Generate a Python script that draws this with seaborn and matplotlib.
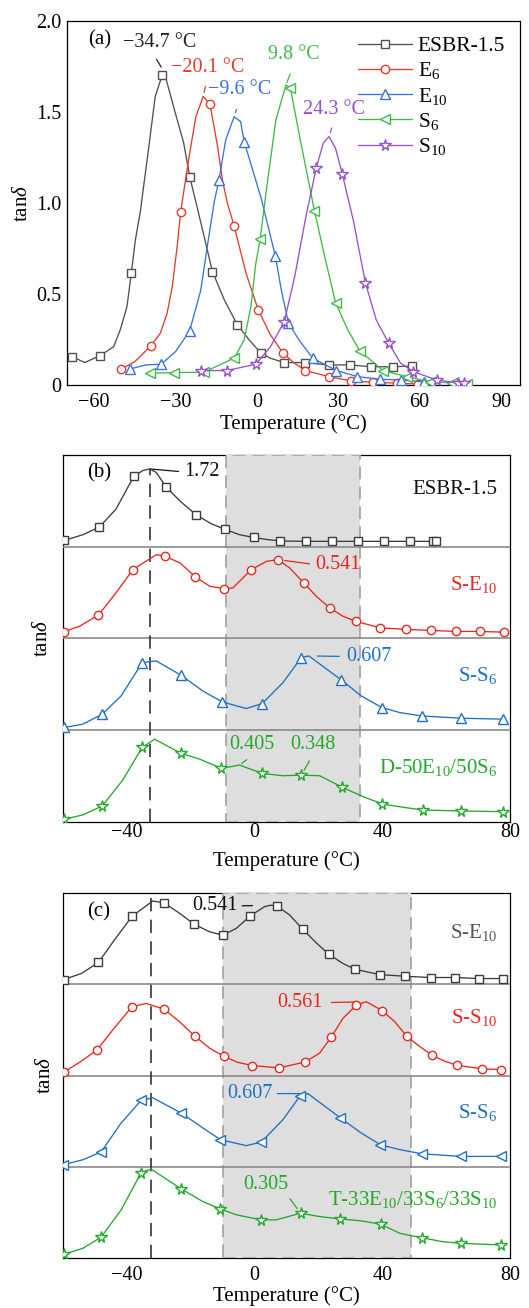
import numpy as np
import pandas as pd
import matplotlib
matplotlib.use("Agg")
import matplotlib.pyplot as plt
import matplotlib.transforms as mtransforms
import seaborn as sns

# ---------------- panel (a): tan delta vs T, five rubbers ----------------
# marker points (T in degC, tan delta)
esbr_T = [-68.0, -57.8, -46.3, -34.9, -24.7, -16.4, -7.2, 1.5, 9.9, 17.8, 26.4, 34.2, 42.2, 50.3, 57.3]
esbr_v = [0.155, 0.161, 0.614, 1.703, 1.141, 0.623, 0.330, 0.174, 0.123, 0.123, 0.110, 0.110, 0.100, 0.100, 0.104]
# extra points read along the curve between markers
esbr_lT = [-63.5, -52.8, -50.4, -47.9, -44.8, -43.0, -40.0, -37.5, -34.2, -30.0, -27.0, -20.0, -12.0, -2.8, 5.0]
esbr_lv = [0.123, 0.210, 0.302, 0.430, 0.797, 0.950, 1.290, 1.584, 1.720, 1.490, 1.330, 0.850, 0.467, 0.247, 0.147]

e6_T = [-50.1, -39.0, -28.1, -17.3, -8.4, 0.5, 9.5, 17.9, 26.5, 34.8, 42.8, 51.5, 59.5]
e6_v = [0.086, 0.216, 0.952, 1.544, 0.874, 0.412, 0.178, 0.079, 0.046, 0.022, 0.015, 0.010, 0.005]
e6_lT = [-45.0, -35.6, -33.1, -31.2, -29.4, -25.0, -22.5, -19.8, -14.5, -12.7, -10.9, -4.0, 5.0, 13.5]
e6_lv = [0.128, 0.284, 0.394, 0.540, 0.760, 1.254, 1.474, 1.585, 1.310, 1.126, 1.000, 0.614, 0.275, 0.123]

e10_T = [-46.7, -35.3, -24.8, -14.0, -4.7, 6.8, 11.6, 20.6, 29.3, 37.0, 45.3, 53.3, 61.7]
e10_v = [0.088, 0.114, 0.297, 1.126, 1.337, 0.709, 0.342, 0.147, 0.079, 0.046, 0.031, 0.027, 0.016]
e10_lT = [-41.0, -30.0, -20.7, -18.3, -15.8, -11.5, -8.4, -6.0, 1.5, 9.0, 15.5]
e10_lv = [0.110, 0.183, 0.520, 0.760, 1.000, 1.346, 1.474, 1.447, 1.030, 0.522, 0.247]

s6_T = [-39.3, -30.6, -19.5, -8.4, 1.2, 12.3, 21.2, 29.0, 37.9, 46.5, 55.2, 63.8, 71.9, 77.4]
s6_v = [0.064, 0.068, 0.070, 0.147, 0.800, 1.634, 0.958, 0.452, 0.188, 0.079, 0.046, 0.018, 0.011, 0.005]
s6_lT = [-4.7, -2.2, -0.4, 3.3, 7.0, 10.7, 16.0, 25.0, 33.6]
s6_lv = [0.247, 0.430, 0.668, 1.050, 1.456, 1.648, 1.346, 0.705, 0.300]

s10_T = [-20.7, -11.1, -0.4, 10.1, 21.9, 31.5, 40.0, 48.6, 57.7, 66.3, 74.3, 76.2]
s10_v = [0.079, 0.079, 0.114, 0.348, 1.194, 1.158, 0.562, 0.229, 0.073, 0.027, 0.011, 0.011]
s10_lT = [5.0, 14.0, 18.0, 24.5, 26.6, 29.0, 35.5, 44.0, 53.0]
s10_lv = [0.210, 0.600, 0.920, 1.330, 1.364, 1.300, 0.907, 0.357, 0.119]

a_xticks = [-60, -30, 0, 30, 60, 90]
a_yticks = [0, 0.5, 1.0, 1.5, 2.0]
a_yticklabels = ["0", "0.5", "1.0", "1.5", "2.0"]

# ---------------- panel (b): stacked curves ----------------
b1_T = [-59.6, -48.6, -37.8, -27.7, -18.3, -9.2, -0.3, 8.1, 16.2, 24.2, 32.4, 40.5, 48.6, 55.9, 56.7]
b1_v = [0.138, 0.434, 1.559, 1.317, 0.706, 0.382, 0.205, 0.126, 0.118, 0.118, 0.118, 0.118, 0.118, 0.118, 0.118]
b1_lT = [-53.8, -43.4, -35.0, -32.9, -30.8, -23.0, -13.6, -4.7, 3.7]
b1_lv = [0.264, 0.832, 1.685, 1.720, 1.644, 0.987, 0.508, 0.264, 0.160]

b2_T = [-59.8, -48.9, -38.1, -28.0, -18.6, -9.6, -1.0, 7.3, 15.4, 23.5, 31.7, 39.2, 47.3, 55.2, 63.0, 70.5, 78.1]
b2_v = [0.046, 0.160, 0.473, 0.564, 0.423, 0.342, 0.473, 0.541, 0.381, 0.210, 0.118, 0.073, 0.062, 0.055, 0.048, 0.048, 0.043]
b2_lT = [-54.8, -43.4, -30.8, -23.3, -14.0, -6.8, 3.7, 11.0, 19.3, 27.7]
b2_lv = [0.084, 0.313, 0.575, 0.518, 0.358, 0.347, 0.529, 0.484, 0.290, 0.152]

b3_T = [-59.6, -47.7, -35.2, -23.0, -10.1, 2.4, 14.6, 27.2, 39.9, 52.4, 64.8, 77.8]
b3_v = [0.022, 0.131, 0.552, 0.449, 0.231, 0.218, 0.593, 0.410, 0.185, 0.116, 0.098, 0.090]
b3_lT = [-53.8, -41.8, -30.8, -16.2, -2.6, 8.9, 17.0, 33.4, 45.5]
b3_lv = [0.049, 0.280, 0.566, 0.320, 0.177, 0.389, 0.607, 0.280, 0.144]

b4_T = [-59.6, -47.7, -35.2, -23.0, -10.4, 2.4, 14.6, 27.5, 40.0, 52.6, 64.8, 77.8]
b4_v = [0.019, 0.114, 0.530, 0.488, 0.381, 0.345, 0.333, 0.246, 0.128, 0.085, 0.078, 0.073]
b4_lT = [-53.8, -41.3, -31.3, -17.2, -4.7, 8.9, 20.4, 34.0, 45.5]
b4_lv = [0.050, 0.298, 0.589, 0.447, 0.405, 0.329, 0.329, 0.180, 0.108]

b_ymax = [2.03, 0.63, 0.75, 0.653]   # tan delta at the top of each strip
b_names = ["ESBR-1.5", "S-E$_{10}$", "S-S$_{6}$", "D-50E$_{10}$/50S$_{6}$"]
b_span = (-9, 33)

# ---------------- panel (c): stacked curves ----------------
c1_T = [-59.8, -48.9, -38.3, -28.4, -19.0, -9.9, -1.3, 7.0, 15.1, 23.3, 31.4, 39.2, 47.0, 55.1, 62.7, 70.3, 77.8]
c1_v = [0.032, 0.149, 0.467, 0.558, 0.412, 0.336, 0.469, 0.536, 0.376, 0.204, 0.103, 0.066, 0.055, 0.046, 0.046, 0.039, 0.039]
c1_lT = [-54.3, -43.9, -31.9, -23.5, -14.1, -5.7, 3.1, 5.0, 11.0, 19.3, 27.7]
c1_lv = [0.073, 0.303, 0.570, 0.486, 0.359, 0.383, 0.531, 0.541, 0.474, 0.284, 0.142]

c2_T = [-59.8, -49.3, -38.4, -28.4, -18.6, -9.6, -0.8, 7.6, 15.9, 24.0, 31.9, 40.0, 47.7, 55.6, 63.5, 71.1, 77.3]
c2_v = [0.025, 0.196, 0.523, 0.505, 0.297, 0.146, 0.076, 0.058, 0.103, 0.292, 0.536, 0.493, 0.297, 0.153, 0.078, 0.051, 0.045]
c2_lT = [-54.3, -44.4, -34.0, -23.5, -14.1, -5.4, 20.4, 27.7, 35.0, 43.9, 51.7, 59.6]
c2_lv = [0.108, 0.347, 0.548, 0.409, 0.208, 0.101, 0.171, 0.435, 0.561, 0.409, 0.221, 0.108]

c3_T = [-60.0, -48.1, -35.5, -23.0, -10.7, 2.1, 14.3, 26.9, 39.4, 52.3, 64.6, 77.3]
c3_v = [0.017, 0.122, 0.551, 0.446, 0.225, 0.205, 0.590, 0.405, 0.183, 0.108, 0.086, 0.086]
c3_lT = [-53.8, -41.8, -31.9, -16.2, -2.6, 8.9, 16.7, 33.4, 45.5]
c3_lv = [0.058, 0.363, 0.572, 0.322, 0.175, 0.391, 0.607, 0.280, 0.142]

c4_T = [-59.8, -48.1, -35.5, -23.0, -10.7, 2.1, 14.4, 26.9, 39.5, 52.3, 64.6, 77.3]
c4_v = [0.025, 0.141, 0.582, 0.471, 0.334, 0.260, 0.305, 0.266, 0.230, 0.138, 0.100, 0.089]
c4_lT = [-53.8, -41.8, -32.4, -16.2, -5.7, 6.8, 20.4, 33.4, 45.5, 59.0]
c4_lv = [0.066, 0.327, 0.605, 0.384, 0.294, 0.260, 0.282, 0.253, 0.168, 0.111]

c_ymax = [0.625, 0.694, 0.757, 0.621]
c_names = ["S-E$_{10}$", "S-S$_{10}$", "S-S$_{6}$", "T-33E$_{10}$/33S$_{6}$/33S$_{10}$"]
c_span = (-10, 49)

bc_xticks = [-40, 0, 40, 80]


def make_curve(mT, mv, lT, lv):
    df = pd.DataFrame({"T": list(mT) + list(lT), "v": list(mv) + list(lv),
                       "mark": [True] * len(mT) + [False] * len(lT)})
    return df.sort_values("T").reset_index(drop=True)


def draw(ax, df, color, marker, ms, label=None, transform=None):
    kw = dict(color=color, marker=marker, markersize=ms, mfc="white", mec=color,
              mew=1.0, lw=0.95, zorder=4,
              markevery=[int(i) for i in np.flatnonzero(df["mark"].values)])
    if transform is not None:
        kw["transform"] = transform
    sns.lineplot(data=df, x="T", y="v", ax=ax, estimator=None, sort=False,
                 label=label, legend=False, **kw)


def peak(df, tmin=-1e9):
    sub = df[df["T"] > tmin]
    i = sub["v"].idxmax()
    return sub.loc[i, "T"], sub.loc[i, "v"]


def value_at(df, t):
    i = (df["T"] - t).abs().idxmin()
    return df.loc[i, "T"], df.loc[i, "v"]


def note(ax, text, xy, dxy, color, coords="data", ha="center", rel=(0.5, 0), sa=2, sb=3):
    ax.annotate(text, xy=xy, xycoords=coords, xytext=dxy, textcoords="offset points",
                ha=ha, va="center", color=color, fontsize=14.5,
                arrowprops=dict(arrowstyle="-", color=color, lw=0.9,
                                shrinkA=sa, shrinkB=sb, relpos=rel))


sns.set_theme(style="white")
plt.rcParams["font.family"] = ["Liberation Serif", "DejaVu Serif"]
plt.rcParams.update({
    "mathtext.fontset": "custom",
    "mathtext.rm": "Liberation Serif",
    "mathtext.it": "Liberation Serif:italic",
    "mathtext.bf": "Liberation Serif:bold",
    "axes.edgecolor": "black",
    "axes.linewidth": 0.9,
    "xtick.direction": "in",
    "ytick.direction": "in",
    "xtick.major.size": 3.5,
    "ytick.major.size": 3.5,
    "xtick.major.width": 0.9,
    "ytick.major.width": 0.9,
    "xtick.color": "black",
    "ytick.color": "black",
    "xtick.labelsize": 14.5,
    "ytick.labelsize": 14.5,
    "axes.labelsize": 15,
    "axes.labelcolor": "black",
    "text.color": "black",
})

fig = plt.figure(figsize=(5.29, 13.08), dpi=100)

# ---------------- (a) ----------------
ax = fig.add_axes([0.1267, 0.7057, 0.8563, 0.2783])
a_series = [
    ("ESBR-1.5", make_curve(esbr_T, esbr_v, esbr_lT, esbr_lv), "#505050", "s", 5.2, "−34.7 °C", "#222222", (-3.2, 20.9), 0.4, 3, 4),
    ("E$_{6}$", make_curve(e6_T, e6_v, e6_lT, e6_lv), "#e33b2e", "o", 6.0, "−20.1 °C", "#e33b2e", (3.2, 21.2), 0.5, 5, 3),
    ("E$_{10}$", make_curve(e10_T, e10_v, e10_lT, e10_lv), "#3a72dc", "^", 6.5, "−9.6 °C", "#3a72dc", (4.1, 19.2), 0.5, 5, 3),
    ("S$_{6}$", make_curve(s6_T, s6_v, s6_lT, s6_lv), "#3dba48", "<", 6.5, "9.8 °C", "#3dba48", (5.8, 21.6), 0.5, 5, 2),
    ("S$_{10}$", make_curve(s10_T, s10_v, s10_lT, s10_lv), "#9650cc", "*", 8.5, "24.3 °C", "#9650cc", (3.7, 19.3), 0.5, 4, 3),
]
for name, df, col, mk, ms, txt, tcol, off, rx, sa, sb in a_series:
    draw(ax, df, col, mk, ms, label=name)
for name, df, col, mk, ms, txt, tcol, off, rx, sa, sb in a_series:
    note(ax, txt, peak(df), off, tcol, rel=(rx, 0), sa=sa, sb=sb)

ax.set_xlim(-70, 97)
ax.set_ylim(0, 2.0)
ax.set_xticks(a_xticks)
ax.set_yticks(a_yticks)
ax.set_yticklabels(a_yticklabels)
ax.tick_params(axis="x", pad=6)
ax.tick_params(axis="y", pad=4)
ax.set_xlabel("Temperature (°C)", labelpad=1)
ax.set_ylabel("tan$\\delta$", labelpad=3)
ax.text(0.046, 0.948, "(a)", transform=ax.transAxes, fontsize=15, va="center")
leg = ax.legend(loc="upper right", bbox_to_anchor=(1.0, 1.0), frameon=False, fontsize=15.5,
                handlelength=2.5, handletextpad=0.25, labelspacing=0.2, borderaxespad=0.3)


# ---------------- (b), (c): stacked strips ----------------
def strip_panel(rect, curves, ymax, names, name_y, span, label, label_y, notes, vline,
                tick_pad, xlabel_pad, ylabel_pad):
    ax = fig.add_axes(rect)
    n = len(curves)
    ax.set_xlim(-60, 80)
    ax.set_ylim(0, n)
    trs = [mtransforms.Affine2D().scale(1, 1.0 / ymax[k]).translate(0, n - 1 - k) + ax.transData
           for k in range(n)]
    ax.axvspan(span[0], span[1], facecolor="#dedede", edgecolor="#a6a6a6",
               linestyle=(0, (7, 4)), linewidth=1.3, zorder=2.6)
    for k in range(1, n):
        ax.axhline(k, color="#8a8a8a", lw=1.2, zorder=3)
    for k, (df, col, mk, ms, ncol) in enumerate(curves):
        draw(ax, df, col, mk, ms, transform=trs[k])
        ax.text(0.971, name_y[k], names[k], transform=ax.transAxes, ha="right", va="center",
                color=ncol, fontsize=15, zorder=5)
    # dashed guide through the low-temperature peak
    k0, top_to_peak = vline
    tpk, vpk = peak(curves[k0][0])
    ymax_frac = (n - 1 - k0 + vpk / ymax[k0]) / n if top_to_peak else 1.0
    ax.axvline(tpk, ymin=0, ymax=ymax_frac, color="#333333", lw=1.2,
               linestyle=(0, (8, 5)), zorder=3.5)
    for k, txt, xy, off, col, ha, rel, sa, sb in notes:
        note(ax, txt, xy, off, col, coords=trs[k], ha=ha, rel=rel, sa=sa, sb=sb)
    ax.set_xticks(bc_xticks)
    ax.set_yticks([])
    ax.tick_params(axis="x", pad=tick_pad)
    ax.set_xlabel("Temperature (°C)", labelpad=xlabel_pad)
    ax.set_ylabel("tan$\\delta$", labelpad=ylabel_pad)
    ax.text(0.054, label_y, label, transform=ax.transAxes, fontsize=15, va="center")
    return ax


b_curves = [
    (make_curve(b1_T, b1_v, b1_lT, b1_lv), "#3c3c3c", "s", 5.2, "#111111"),
    (make_curve(b2_T, b2_v, b2_lT, b2_lv), "#e5281f", "o", 6.0, "#e5281f"),
    (make_curve(b3_T, b3_v, b3_lT, b3_lv), "#1f6fc2", "^", 6.5, "#1f6fc2"),
    (make_curve(b4_T, b4_v, b4_lT, b4_lv), "#22a82b", "*", 8.5, "#22a82b"),
]
b_notes = [
    (0, "1.72", peak(b_curves[0][0]), (25.2, -2.2), "#111111", "left", (0, 0.5), 2, 0),
    (1, "0.541", peak(b_curves[1][0], 0), (27.1, -3.6), "#e5281f", "left", (0, 0.5), 2, 5),
    (2, "0.607", peak(b_curves[2][0], 0), (27.2, -0.4), "#1f6fc2", "left", (0, 0.5), 3, 6),
    (3, "0.405", value_at(b_curves[3][0], -4.7), (9.1, 14.8), "#22a82b", "center", (0.55, 0), 3, 2),
    (3, "0.348", peak(b_curves[3][0], 5), (8.2, 22.0), "#22a82b", "center", (0.52, 0), 3, 4),
]
strip_panel([0.1191, 0.3716, 0.8450, 0.2806], b_curves, b_ymax, b_names,
            [0.905, 0.646, 0.40, 0.147], b_span, "(b)", 0.951, b_notes, (0, True),
            tick_pad=1, xlabel_pad=6, ylabel_pad=8)

c_curves = [
    (make_curve(c1_T, c1_v, c1_lT, c1_lv), "#3c3c3c", "s", 5.2, "#555555"),
    (make_curve(c2_T, c2_v, c2_lT, c2_lv), "#e5281f", "o", 6.0, "#e5281f"),
    (make_curve(c3_T, c3_v, c3_lT, c3_lv), "#1f6fc2", "<", 6.5, "#1f6fc2"),
    (make_curve(c4_T, c4_v, c4_lT, c4_lv), "#22a82b", "*", 8.5, "#22a82b"),
]
c_notes = [
    (0, "0.541", peak(c_curves[0][0], 0), (-23.8, -0.5), "#111111", "right", (1, 0.5), 1, 13),
    (1, "0.561", peak(c_curves[1][0], 0), (-31.5, -0.7), "#e5281f", "right", (1, 0.5), 4, 6),
    (2, "0.607", peak(c_curves[2][0], 0), (-25.4, 0.0), "#1f6fc2", "right", (1, 0.5), 1, 6),
    (3, "0.305", peak(c_curves[3][0], 5), (-25.2, 20.4), "#22a82b", "center", (0.97, 0), 1, 4),
]
strip_panel([0.1191, 0.0382, 0.8450, 0.2791], c_curves, c_ymax, c_names,
            [0.891, 0.658, 0.398, 0.159], c_span, "(c)", 0.948, c_notes, (3, False),
            tick_pad=5.5, xlabel_pad=1, ylabel_pad=6)

fig.savefig("out.png", dpi=100)
